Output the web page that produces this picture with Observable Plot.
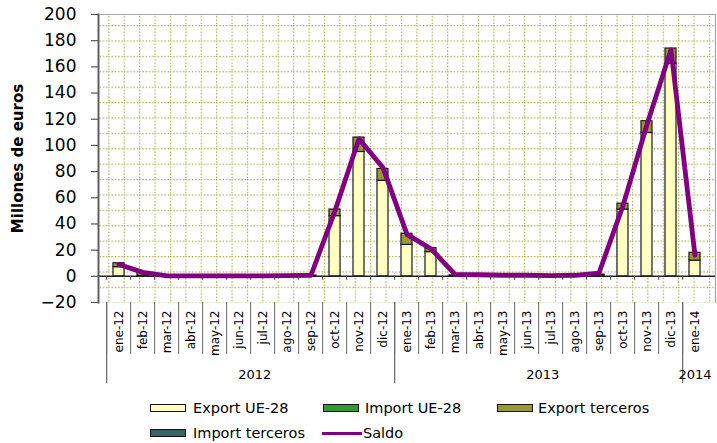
<!DOCTYPE html>
<html><head><meta charset="utf-8">
<script src="https://cdn.jsdelivr.net/npm/d3@7"></script>
<script src="https://cdn.jsdelivr.net/npm/@observablehq/plot@0.6"></script>
<style>
body{margin:0;background:#fff;font-family:"DejaVu Sans",sans-serif;}
#wrap{position:relative;width:717px;height:443px;overflow:hidden}
#legend{position:relative;width:717px;height:51px;font-size:14.5px;color:#000}
.sw{position:absolute;width:34px;height:6px;border:1px solid #111}
.ln{position:absolute;width:40px;height:3px;background:#800080}
.lt{position:absolute;white-space:nowrap;line-height:16px}
</style></head><body><div id="wrap"><div id="chart"></div><div id="legend"></div></div>
<script>
const months = ["ene-12","feb-12","mar-12","abr-12","may-12","jun-12","jul-12","ago-12","sep-12","oct-12","nov-12","dic-12",
  "ene-13","feb-13","mar-13","abr-13","may-13","jun-13","jul-13","ago-13","sep-13","oct-13","nov-13","dic-13","ene-14"];
const monthYear = ["2012","2012","2012","2012","2012","2012","2012","2012","2012","2012","2012","2012",
  "2013","2013","2013","2013","2013","2013","2013","2013","2013","2013","2013","2013","2014"];
const years = ["2012","2013","2014"];
const exportUE  = [7, 0.3, 0, 0, 0, 0, 0, 0, 0, 46, 95, 73, 24, 18.5, 0, 0, 0, 0, 0, 0, 1, 51, 109.5, 162.5, 12];
const importUE  = [0, 0, 0, 0, 0, 0, 0, 0, 0, 0, 0, 0, 0, 0, 0, 0, 0, 0, 0, 0, 0, 0, 0, 0, 0];
const exportTer = [3, 2.7, 0, 0, 0, 0, 0, 0, 0.6, 5, 11, 9, 8.5, 3, 0.7, 0, 0, 0, 0, 0, 0.3, 4.5, 9, 11.5, 6];
const importTer = [0, 0, 0, 0, 0, 0, 0, 0, 0, 0, 0, 0, 0, 0, 0, 0, 0, 0, 0, 0, 0, 0, 0, 0, 0];
const saldo     = [9, 3, 0.4, 0.3, 0.3, 0.3, 0.4, 0.5, 0.8, 50, 105, 83, 32, 21, 1.5, 1.2, 0.8, 0.8, 0.6, 0.8, 2.5, 54, 116, 173, 16];
const yTicks = [-20, 0, 20, 40, 60, 80, 100, 120, 140, 160, 180, 200];
const seriesNames = ["Export UE-28", "Import UE-28", "Export terceros", "Import terceros"];
const seriesColors = ["#ffffc0", "#339933", "#999933", "#336666"];
const saldoName = "Saldo";
const saldoColor = "#800080";

// layout
const W = 717, H = 392, mL = 98, mR = 2, mT = 14, mB = 90;
const plotH = H - mT - mB;
const step = (W - mL - mR) / months.length;

const seriesValues = [exportUE, importUE, exportTer, importTer];
const rows = [];
months.forEach((m, i) => {
  seriesNames.forEach((s, k) => {
    const v = k % 2 === 1 ? -seriesValues[k][i] : seriesValues[k][i];
    if (v !== 0) rows.push({month: m, series: s, value: v});
  });
});
const saldoRows = months.map((m, i) => ({month: m, value: saldo[i]}));
const yearGroups = years.map(y => {
  const idx = monthYear.map((v, i) => v === y ? i : -1).filter(i => i >= 0);
  return {year: y, first: months[idx[0]], count: idx.length};
});

const chart = Plot.plot({
  width: W, height: H,
  marginLeft: mL, marginRight: mR, marginTop: mT, marginBottom: mB,
  style: {fontFamily: "'DejaVu Sans', sans-serif", fontSize: "16px", background: "#fff", color: "#000"},
  x: {type: "band", domain: months, paddingInner: 0.55, paddingOuter: 0.275, axis: null},
  y: {domain: [-20, 200], axis: null},
  color: {domain: seriesNames, range: seriesColors},
  marks: [
    Plot.frame({fill: "url(#dotgrid)", stroke: "none"}),
    Plot.frame({anchor: "top", stroke: "#a6a6a6", strokeWidth: 1.2}),
    Plot.frame({anchor: "right", stroke: "#a6a6a6", strokeWidth: 1.2}),
    Plot.ruleY([0], {stroke: "#222", strokeWidth: 1.5}),
    Plot.ruleX(months, {x: d => d, dx: -step / 2, y1: 0, y2: 0, insetBottom: -4, stroke: "#444", strokeWidth: 1}),
    Plot.barY(rows, {x: "month", y: "value", fill: "series", stroke: "#1a1a1a", strokeWidth: 1.2}),
    Plot.line(saldoRows, {x: "month", y: "value", stroke: saldoColor, strokeWidth: 4.8, strokeLinejoin: "round", strokeLinecap: "round"}),
    Plot.frame({anchor: "left", stroke: "#606060", strokeWidth: 2}),
    Plot.axisY({ticks: yTicks, tickSize: 7, tickPadding: 15, fontSize: 17, stroke: "#555", strokeWidth: 1.2, label: null}),
    Plot.text(["Millones de euros"], {text: d => d, frameAnchor: "left", dx: -80, rotate: -90, textAnchor: "middle", fontWeight: "bold", fontSize: 15, lineAnchor: "middle"}),
    Plot.text(months, {x: d => d, text: d => d, frameAnchor: "bottom", dy: 8, rotate: -90, textAnchor: "end", lineAnchor: "middle", fontSize: 12}),
    Plot.ruleX(months, {x: d => d, dx: -step / 2, insetTop: plotH, insetBottom: -52, stroke: "#666", strokeWidth: 1}),
    Plot.ruleX(yearGroups, {x: "first", dx: -step / 2, insetTop: plotH, insetBottom: -81, stroke: "#666", strokeWidth: 1.2}),
    ...yearGroups.map(g => Plot.text([g], {x: "first", text: "year", frameAnchor: "bottom", dy: 72, dx: (g.count - 1) * step / 2, textAnchor: "middle", fontSize: 13, lineAnchor: "middle"}))
  ]
});

// dotted background grid pattern
const defs = d3.select(chart).insert("defs", ":first-child");
const pat = defs.append("pattern").attr("id", "dotgrid").attr("patternUnits", "userSpaceOnUse")
  .attr("width", 15.4).attr("height", 15.4).attr("x", 107.8).attr("y", 24.5);
pat.append("rect").attr("width", 15.4).attr("height", 15.4).attr("fill", "#fff");
pat.append("line").attr("x1", 0.5).attr("x2", 0.5).attr("y1", 0).attr("y2", 15.4)
  .attr("stroke", "#a0a030").attr("stroke-width", 1.3).attr("stroke-dasharray", "1.3 2");
pat.append("line").attr("y1", 0.5).attr("y2", 0.5).attr("x1", 0).attr("x2", 15.4)
  .attr("stroke", "#a0a030").attr("stroke-width", 1.3).attr("stroke-dasharray", "1.3 2");

document.getElementById("chart").appendChild(chart);

// legend
const legend = document.getElementById("legend");
const items = [
  {name: seriesNames[0], color: seriesColors[0], sx: 150, tx: 193, row: 0},
  {name: seriesNames[1], color: seriesColors[1], sx: 323, tx: 365, row: 0},
  {name: seriesNames[2], color: seriesColors[2], sx: 497, tx: 538, row: 0},
  {name: seriesNames[3], color: seriesColors[3], sx: 150, tx: 193, row: 1}
];
items.forEach(it => {
  const cy = it.row === 0 ? 16 : 41;
  const s = document.createElement("div");
  s.className = "sw"; s.style.left = it.sx + "px"; s.style.top = (cy - 4) + "px"; s.style.background = it.color;
  legend.appendChild(s);
  const t = document.createElement("div");
  t.className = "lt"; t.style.left = it.tx + "px"; t.style.top = (cy - 8) + "px"; t.textContent = it.name;
  legend.appendChild(t);
});
const l = document.createElement("div");
l.className = "ln"; l.style.left = "322px"; l.style.top = "40px"; l.style.background = saldoColor;
legend.appendChild(l);
const lt = document.createElement("div");
lt.className = "lt"; lt.style.left = "363px"; lt.style.top = "33px"; lt.textContent = saldoName;
legend.appendChild(lt);
</script></body></html>
